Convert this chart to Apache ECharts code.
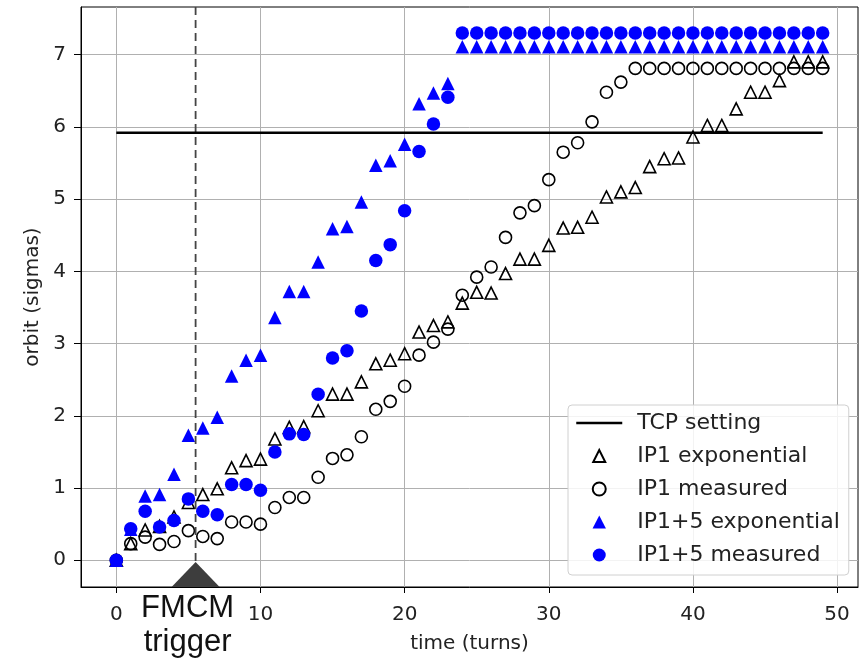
<!DOCTYPE html>
<html>
<head>
<meta charset="utf-8">
<script src="https://cdn.jsdelivr.net/npm/echarts@6/dist/echarts.min.js"></script>
<style>
  html, body { margin: 0; padding: 0; background: #fff; }
  #orbit-chart { width: 862px; height: 661px; }
</style>
</head>
<body>
<div id="orbit-chart"></div>
<script>
// data
const turns = [0, 1, 2, 3, 4, 5, 6, 7, 8, 9, 10, 11, 12, 13, 14, 15, 16, 17, 18, 19,
  20, 21, 22, 23, 24, 25, 26, 27, 28, 29, 30, 31, 32, 33, 34, 35, 36, 37, 38, 39,
  40, 41, 42, 43, 44, 45, 46, 47, 48, 49]

const ip1Exp = [0, 0.23, 0.42, 0.47, 0.60, 0.80, 0.91, 0.99, 1.28, 1.38, 1.40, 1.68, 1.84, 1.85,
  2.07, 2.30, 2.30, 2.47, 2.72, 2.77, 2.86, 3.16, 3.25, 3.30, 3.56, 3.71, 3.70, 3.97, 4.17, 4.17,
  4.36, 4.60, 4.61, 4.75, 5.03, 5.10, 5.16, 5.45, 5.56, 5.57, 5.86, 6.02, 6.02, 6.25, 6.48, 6.48,
  6.64, 6.90, 6.90, 6.90]

const ip1Meas = [0, 0.23, 0.32, 0.22, 0.26, 0.41, 0.33, 0.30, 0.53, 0.53, 0.50, 0.73, 0.87, 0.87,
  1.15, 1.41, 1.46, 1.71, 2.09, 2.20, 2.41, 2.84, 3.02, 3.20, 3.67, 3.92, 4.06, 4.47, 4.81, 4.91,
  5.27, 5.65, 5.78, 6.07, 6.48, 6.62, 6.81, 6.81, 6.81, 6.81, 6.81, 6.81, 6.81, 6.81, 6.81, 6.81,
  6.81, 6.81, 6.81, 6.81]

const ip15Exp = [0, 0.43, 0.89, 0.91, 1.19, 1.73, 1.83, 1.98, 2.55, 2.77, 2.84, 3.36, 3.72, 3.72,
  4.13, 4.59, 4.62, 4.96, 5.47, 5.53, 5.76, 6.32, 6.47, 6.60, 7.11, 7.11, 7.11, 7.11, 7.11, 7.11,
  7.11, 7.11, 7.11, 7.11, 7.11, 7.11, 7.11, 7.11, 7.11, 7.11, 7.11, 7.11, 7.11, 7.11, 7.11, 7.11,
  7.11, 7.11, 7.11, 7.11]

const ip15Meas = [0, 0.435, 0.68, 0.46, 0.55, 0.85, 0.68, 0.63, 1.05, 1.05, 0.97, 1.50, 1.75, 1.74,
  2.30, 2.80, 2.90, 3.45, 4.15, 4.37, 4.84, 5.66, 6.04, 6.41, 7.30, 7.30, 7.30, 7.30, 7.30, 7.30,
  7.30, 7.30, 7.30, 7.30, 7.30, 7.30, 7.30, 7.30, 7.30, 7.30, 7.30, 7.30, 7.30, 7.30, 7.30, 7.30,
  7.30, 7.30, 7.30, 7.30]

const tcpTurns = [0, 49]
const tcpSetting = 5.92
const fmcmTurn = 5.5

const xTicks = [0, 10, 20, 30, 40, 50]
const yTicks = [0, 1, 2, 3, 4, 5, 6, 7]
const xRange = [-2.45, 51.45]
const yRange = [-0.37, 7.66]

// legend triangles: the extra moveTo points pad the box to 46x13 so the
// triangle is not stretched across the legend item width
const triOpenIcon = 'path://M0,0 M46,13 M17,12.5 L23,0.5 L29,12.5 Z'
const triFullIcon = 'path://M0,0 M46,13 M16.3,13 L23,0 L29.7,13 Z'

const legendItems = [
  {name: 'TCP setting'},
  {name: 'IP1 exponential', icon: triOpenIcon},
  {name: 'IP1 measured', icon: 'circle'},
  {name: 'IP1+5 exponential', icon: triFullIcon},
  {name: 'IP1+5 measured', icon: 'circle'}
]

function pairs(ys) {
  return turns.map((t, i) => [t, ys[i]])
}

const font = 'DejaVu Sans'
let chart = undefined

function initChart() {
  chart = echarts.init(document.getElementById('orbit-chart'), null, {renderer: 'canvas'})

  const option = {
    animation: false,
    backgroundColor: '#ffffff',
    grid: {
      left: 81,
      top: 7,
      right: 4,
      bottom: 74,
      show: true,
      borderColor: '#000',
      borderWidth: 1,
      backgroundColor: 'transparent'
    },
    legend: {
      data: legendItems,
      orient: 'vertical',
      left: 568,
      top: 405,
      itemWidth: 46,
      itemHeight: 13,
      itemGap: 11,
      padding: [7, 9, 9, 7],
      backgroundColor: 'rgba(255,255,255,0.85)',
      borderColor: '#d0d0d0',
      borderWidth: 1,
      borderRadius: 4,
      lineStyle: {width: 2.5},
      textStyle: {
        fontFamily: font,
        fontSize: 22,
        lineHeight: 22,
        color: '#222',
        padding: [0, 0, 0, 10]
      }
    },
    xAxis: {
      type: 'value',
      min: xRange[0],
      max: xRange[1],
      splitNumber: 5,
      name: 'time (turns)',
      nameLocation: 'middle',
      nameGap: 47,
      nameTextStyle: {fontFamily: font, fontSize: 20, color: '#222'},
      axisLine: {show: true, onZero: false, lineStyle: {color: '#000', width: 1}},
      axisTick: {show: true, length: 6, customValues: xTicks, lineStyle: {color: '#000'}},
      axisLabel: {customValues: xTicks, margin: 18, fontFamily: font, fontSize: 20, color: '#222'},
      splitLine: {show: true, lineStyle: {color: '#b0b0b0', width: 1}}
    },
    yAxis: {
      type: 'value',
      min: yRange[0],
      max: yRange[1],
      splitNumber: 8,
      name: 'orbit (sigmas)',
      nameLocation: 'middle',
      nameGap: 38,
      nameTextStyle: {fontFamily: font, fontSize: 20, color: '#222'},
      axisLine: {show: true, onZero: false, lineStyle: {color: '#000', width: 1}},
      axisTick: {show: true, length: 7, customValues: yTicks, lineStyle: {color: '#000'}},
      axisLabel: {customValues: yTicks, margin: 15, fontFamily: font, fontSize: 20, color: '#222'},
      splitLine: {show: true, lineStyle: {color: '#b0b0b0', width: 1}}
    },
    series: [
      {
        // FMCM trigger time, dashed
        name: 'fmcm-line',
        type: 'line',
        data: [[fmcmTurn, yRange[0]], [fmcmTurn, yRange[1]]],
        symbol: 'none',
        silent: true,
        lineStyle: {color: '#444', width: 1.8, type: [8, 5]}
      },
      {
        name: 'TCP setting',
        type: 'line',
        data: tcpTurns.map(t => [t, tcpSetting]),
        symbol: 'none',
        // transparent so the legend only shows the line
        itemStyle: {color: 'rgba(0,0,0,0)', borderColor: 'rgba(0,0,0,0)', borderWidth: 0},
        lineStyle: {color: '#000', width: 2.5}
      },
      {
        name: 'IP1 exponential',
        type: 'scatter',
        data: pairs(ip1Exp),
        symbol: 'triangle',
        symbolSize: 12,
        itemStyle: {color: 'rgba(0,0,0,0)', borderColor: '#000', borderWidth: 1.6, opacity: 1}
      },
      {
        name: 'IP1 measured',
        type: 'scatter',
        data: pairs(ip1Meas),
        symbol: 'circle',
        symbolSize: 12,
        itemStyle: {color: 'rgba(0,0,0,0)', borderColor: '#000', borderWidth: 1.6, opacity: 1}
      },
      {
        name: 'IP1+5 exponential',
        type: 'scatter',
        data: pairs(ip15Exp),
        symbol: 'triangle',
        symbolSize: 13.5,
        itemStyle: {color: '#0000ff', opacity: 1}
      },
      {
        name: 'IP1+5 measured',
        type: 'scatter',
        data: pairs(ip15Meas),
        symbol: 'circle',
        symbolSize: 13.5,
        itemStyle: {color: '#0000ff', opacity: 1}
      },
      {
        // arrow head + text under the axis
        name: 'fmcm-mark',
        type: 'scatter',
        data: [[fmcmTurn, yRange[0]]],
        symbol: 'triangle',
        symbolSize: [48, 25],
        symbolOffset: [0, -12.5],
        clip: false,
        silent: true,
        z: 5,
        itemStyle: {color: '#3d3d3d', opacity: 1},
        label: {
          show: true,
          position: 'bottom',
          distance: 4,
          offset: [-8, 0],
          formatter: 'FMCM\ntrigger',
          fontFamily: 'Liberation Sans',
          fontSize: 31,
          lineHeight: 34,
          color: '#111'
        }
      }
    ]
  }

  chart.setOption(option)
}

initChart()
</script>
</body>
</html>
